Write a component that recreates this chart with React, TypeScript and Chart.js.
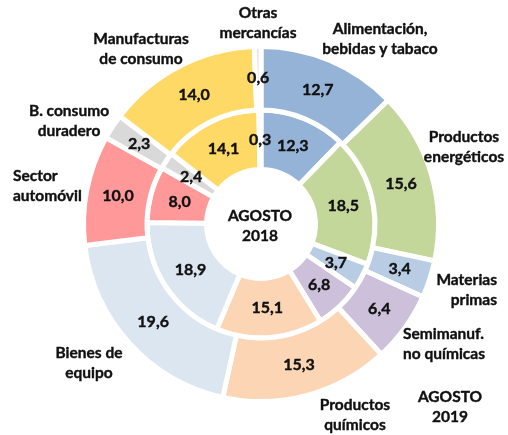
import React, { useEffect, useRef } from "react";
import { Chart, registerables } from "chart.js";

Chart.register(...registerables);

const categories = [
  "Alimentación, bebidas y tabaco",
  "Productos energéticos",
  "Materias primas",
  "Semimanuf. no químicas",
  "Productos químicos",
  "Bienes de equipo",
  "Sector automóvil",
  "B. consumo duradero",
  "Manufacturas de consumo",
  "Otras mercancías",
];
const values2019 = [12.7, 15.6, 3.4, 6.4, 15.3, 19.6, 10.0, 2.3, 14.0, 0.6];
const values2018 = [12.3, 18.5, 3.7, 6.8, 15.1, 18.9, 8.0, 2.4, 14.1, 0.3];
const colors = [
  "#95B3D7",
  "#C4D79B",
  "#B8CCE4",
  "#CCC0DA",
  "#FCD5B4",
  "#DCE6F1",
  "#FF9999",
  "#D9D9D9",
  "#FFD966",
  "#F2DCDB",
];

// Outside category labels: lines, alignment, offset from the doughnut centre
const outerLabels: { lines: string[]; align: CanvasTextAlign; dx: number; dy: number }[] = [
  { lines: ["Otras", "mercancías"], align: "center", dx: -3, dy: -201 },
  { lines: ["Alimentación,", "bebidas y tabaco"], align: "center", dx: 119, dy: -185 },
  { lines: ["Productos", "energéticos"], align: "center", dx: 203, dy: -77 },
  { lines: ["Materias", "primas"], align: "right", dx: 236, dy: 66 },
  { lines: ["Semimanuf.", "no químicas"], align: "left", dx: 142, dy: 120 },
  { lines: ["Productos", "químicos"], align: "center", dx: 94, dy: 191 },
  { lines: ["AGOSTO", "2019"], align: "center", dx: 189, dy: 183 },
  { lines: ["Bienes de", "equipo"], align: "center", dx: -172, dy: 139 },
  { lines: ["Sector", "automóvil"], align: "left", dx: -248, dy: -38 },
  { lines: ["B. consumo", "duradero"], align: "center", dx: -192, dy: -103 },
  { lines: ["Manufacturas", "de consumo"], align: "center", dx: -120, dy: -175 },
  { lines: ["AGOSTO", "2018"], align: "center", dx: -1, dy: 2 },
];

const FONT = "Lato, 'Open Sans', sans-serif";

const labelPlugin = {
  id: "labels",
  afterDraw(chart: any) {
    const ctx = chart.ctx;
    ctx.save();
    ctx.fillStyle = "#111111";
    ctx.strokeStyle = "#111111";
    ctx.lineWidth = 0.4;
    ctx.textBaseline = "middle";
    const put = (t: string, x: number, y: number) => {
      ctx.fillText(t, x, y);
      ctx.strokeText(t, x, y);
    };
    // values inside the arcs
    ctx.font = `bold 16px ${FONT}`;
    ctx.textAlign = "center";
    chart.data.datasets.forEach((ds: any, di: number) => {
      const meta = chart.getDatasetMeta(di);
      meta.data.forEach((arc: any, i: number) => {
        const p = arc.tooltipPosition();
        const txt = ds.data[i].toFixed(1).replace(".", ",");
        put(txt, p.x, p.y);
      });
    });
    // category labels
    const arc0 = chart.getDatasetMeta(0).data[0];
    const cx = arc0.x;
    const cy = arc0.y;
    ctx.font = `bold 15.5px ${FONT}`;
    outerLabels.forEach((l) => {
      ctx.textAlign = l.align;
      l.lines.forEach((line, k) => {
        put(line, cx + l.dx, cy + l.dy + (k - (l.lines.length - 1) / 2) * 19.5);
      });
    });
    ctx.restore();
  },
};

export default function App() {
  const ref = useRef<HTMLCanvasElement | null>(null);
  useEffect(() => {
    if (!ref.current) return;
    const chart = new Chart(ref.current, {
      type: "doughnut",
      data: {
        labels: categories,
        datasets: [
          {
            label: "AGOSTO 2019",
            data: values2019,
            backgroundColor: colors,
            borderColor: "#ffffff",
            borderWidth: 5,
            weight: 63.5,
          },
          {
            label: "AGOSTO 2018",
            data: values2018,
            backgroundColor: colors,
            borderColor: "#ffffff",
            borderWidth: 5,
            weight: 59.5,
          },
        ],
      },
      options: {
        responsive: false,
        animation: false,
        radius: 177.5,
        cutout: "30.7%",
        layout: { padding: { left: 14, right: 0, top: 13, bottom: 0 } },
        plugins: {
          legend: { display: false },
          title: { display: false },
          tooltip: { enabled: false },
        },
      } as any,
      plugins: [labelPlugin],
    });
    return () => chart.destroy();
  }, []);
  return (
    <div style={{ position: "fixed", left: 0, top: 0, width: 508, height: 435, background: "#fff" }}>
      <canvas ref={ref} width={508} height={435} style={{ width: 508, height: 435 }} />
    </div>
  );
}
